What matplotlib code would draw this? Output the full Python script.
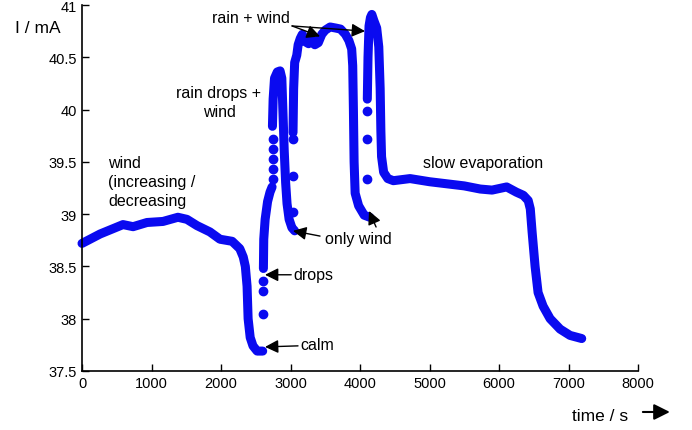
import numpy as np
import matplotlib.pyplot as plt

plt.rcParams['font.family'] = ['Liberation Sans', 'DejaVu Sans']

# odčitane vrednosti: čas [s], tok [mA]
# zvezni deli krivulje
t_calm = [0, 260, 590, 735, 935, 1165, 1380, 1510, 1655, 1840, 1985, 2160, 2270,
          2320, 2350, 2375, 2390, 2420, 2460, 2520, 2600]
i_calm = [38.72, 38.81, 38.90, 38.88, 38.92, 38.93, 38.97, 38.95, 38.89, 38.83, 38.76,
          38.74, 38.67, 38.59, 38.50, 38.31, 38.00, 37.82, 37.74, 37.69, 37.69]

t_drops = [2610, 2615, 2635, 2670, 2705, 2735]
i_drops = [38.48, 38.76, 38.95, 39.12, 39.21, 39.26]

t_rain1 = [2740, 2750, 2770, 2810, 2850, 2875, 2890, 2910, 2930, 2950, 2980, 3020, 3060]
i_rain1 = [39.84, 40.10, 40.30, 40.36, 40.37, 40.30, 40.00, 39.60, 39.30, 39.10, 38.95,
           38.87, 38.84]

t_rain2 = [3036, 3045, 3060, 3090, 3110, 3140, 3170, 3210, 3260, 3300, 3350, 3400, 3450,
           3500, 3570, 3650, 3720, 3790, 3840, 3880, 3895, 3905, 3915, 3930, 3980, 4060, 4140]
i_rain2 = [39.78, 40.20, 40.45, 40.52, 40.62, 40.68, 40.72, 40.65, 40.63, 40.68, 40.62,
           40.64, 40.72, 40.76, 40.79, 40.78, 40.77, 40.72, 40.66, 40.58, 40.42, 40.00,
           39.50, 39.20, 39.08, 38.99, 38.97]

t_evap = [4105, 4115, 4130, 4150, 4170, 4200, 4240, 4270, 4290, 4300, 4310, 4340, 4400,
          4480, 4720, 5000, 5250, 5500, 5730, 5900, 6110, 6250, 6350, 6420, 6450, 6476,
          6519, 6562, 6634, 6735, 6879, 7022, 7190]
i_evap = [40.10, 40.50, 40.80, 40.88, 40.91, 40.85, 40.78, 40.60, 40.20, 39.80, 39.55,
          39.40, 39.34, 39.32, 39.34, 39.31, 39.29, 39.27, 39.24, 39.23, 39.26, 39.21,
          39.18, 39.13, 39.05, 38.83, 38.50, 38.25, 38.12, 38.00, 37.90, 37.84, 37.81]

# posamezne (redke) točke pri hitrih skokih
t_dots = [2605, 2605, 2605, 2748, 2748, 2748, 2748, 2748, 3036, 3036, 3036, 4100, 4100, 4100]
i_dots = [38.04, 38.26, 38.36, 39.34, 39.43, 39.53, 39.62, 39.72, 39.02, 39.36, 39.72,
          39.34, 39.72, 39.99]

xticks = [0, 1000, 2000, 3000, 4000, 5000, 6000, 7000, 8000]
yticks = [37.5, 38, 38.5, 39, 39.5, 40, 40.5, 41]
ylabels = ["37.5", "38", "38.5", "39", "39.5", "40", "40.5", "41"]

modra = '#0a0af0'

fig = plt.figure(figsize=(6.92, 4.31), dpi=100)
ax = fig.add_axes([0.1185, 0.137, 0.8035, 0.849])

for t, i in [(t_calm, i_calm), (t_drops, i_drops), (t_rain1, i_rain1),
             (t_rain2, i_rain2), (t_evap, i_evap)]:
    ax.plot(t, i, '-', color=modra, lw=6.5, solid_capstyle='round',
            solid_joinstyle='round', clip_on=False)
ax.plot(t_dots, i_dots, 'o', color=modra, ms=6, mec=modra, clip_on=False)

ax.set_xlim(0, 8000)
ax.set_ylim(37.5, 41)
ax.set_xticks(xticks)
ax.set_xticklabels([str(x) for x in xticks])
ax.set_yticks(yticks)
ax.set_yticklabels(ylabels)
ax.tick_params(direction='in', length=5, width=1, labelsize=10.5, colors='black')
ax.spines['top'].set_visible(False)
ax.spines['right'].set_visible(False)
ax.spines['left'].set_linewidth(1.2)
ax.spines['bottom'].set_linewidth(1.2)

fs = 11.5
puscica = dict(arrowstyle='-|>', color='black', lw=1, mutation_scale=20,
               shrinkA=0, shrinkB=0)

ax.text(374, 39.565, "wind\n(increasing /\ndecreasing", fontsize=fs, ha='left',
        va='top', linespacing=1.35)
ax.text(1971, 40.234, "rain drops +\nwind", fontsize=fs, ha='center', va='top',
        linespacing=1.35)
ax.text(2993, 40.884, "rain + wind", fontsize=fs, ha='right', va='center')
ax.annotate('', xy=(3425, 40.70), xytext=(3022, 40.80), arrowprops=puscica)
ax.annotate('', xy=(4072, 40.75), xytext=(3022, 40.80), arrowprops=puscica)
ax.text(4906, 39.49, "slow evaporation", fontsize=fs, ha='left', va='center')
ax.text(3496, 38.77, "only wind", fontsize=fs, ha='left', va='center')
ax.annotate('', xy=(3036, 38.84), xytext=(3425, 38.79), arrowprops=puscica)
ax.annotate('', xy=(4130, 39.03), xytext=(4231, 38.877), arrowprops=puscica)
ax.text(3036, 38.42, "drops", fontsize=fs, ha='left', va='center')
ax.annotate('', xy=(2633, 38.42), xytext=(3010, 38.42), arrowprops=puscica)
ax.text(3137, 37.75, "calm", fontsize=fs, ha='left', va='center')
ax.annotate('', xy=(2633, 37.73), xytext=(3108, 37.74), arrowprops=puscica)

fig.text(0.0217, 0.935, "I / mA", fontsize=12.5, ha='left', va='center')
fig.text(0.8266, 0.0348, "time / s", fontsize=12.5, ha='left', va='center')
ax.annotate('', xy=(0.968, 0.0418), xytext=(0.929, 0.0418), xycoords='figure fraction',
            arrowprops=dict(arrowstyle='-|>', color='black', lw=1.5, mutation_scale=24,
                            shrinkA=0, shrinkB=0))

plt.savefig('out.png', dpi=100)
